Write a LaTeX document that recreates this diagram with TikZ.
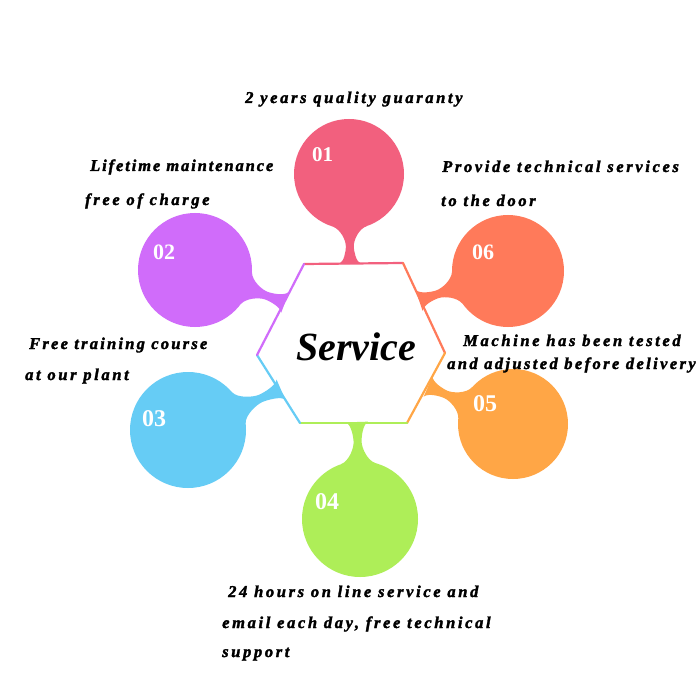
\documentclass[tikz,border=0pt]{standalone}
\usepackage{fontspec}
\setmainfont{Liberation Serif}
\newfontfamily\lblfont[LetterSpace=16,FakeBold=2]{Liberation Serif}
\newfontfamily\lblfontb[LetterSpace=13.5,FakeBold=2]{Liberation Serif}
\newfontfamily\lblfontc[LetterSpace=11.5,FakeBold=2]{Liberation Serif}
\newfontfamily\lblfontd[LetterSpace=14.5,FakeBold=2]{Liberation Serif}
\definecolor{cA}{HTML}{F2607E}
\definecolor{cB}{HTML}{D06CFA}
\definecolor{cC}{HTML}{66CCF5}
\definecolor{cD}{HTML}{AEEE58}
\definecolor{cE}{HTML}{FFA646}
\definecolor{cF}{HTML}{FF7A5A}
\newcommand\neckpath[6]{%
 \pgfmathsetmacro\ndx{#3-(#1)}%
 \pgfmathsetmacro\ndy{#4-(#2)}%
 \pgfmathsetmacro\nang{atan2(-\ndy,\ndx)}%
 \pgfmathsetmacro\nD{sqrt(\ndx*\ndx+\ndy*\ndy)}%
 \pgfmathsetmacro\nxc{\nD-sqrt(#5*#5-289)}%
 \pgfmathsetmacro\nm{(\nD-#5)*0.5}%
 \pgfmathsetmacro\nma{\nm-6}%
 \pgfmathsetmacro\nmb{\nm+6}%
 \pgfmathsetmacro\nxd{\nxc-3}%
 \fill[#6, shift={(#1,#2)}, rotate=\nang]
   (-1,-11) .. controls (1.5,-6) and (\nma,-4) .. (\nm,-4)
   .. controls (\nmb,-4) and (\nxd,-9) .. (\nxc,-17)
   -- (\nxc,17)
   .. controls (\nxd,9) and (\nmb,4) .. (\nm,4)
   .. controls (\nma,4) and (1.5,6) .. (-1,11) -- cycle;
}
\tikzset{
  bubble/.style={circle, inner sep=0pt, minimum size=#1},
  numlbl/.style={anchor=base west, inner sep=0pt, text=white, font=\bfseries\fontsize{#1}{#1}\selectfont},
  txt/.style={anchor=base west, inner sep=0pt, font=\lblfont\bfseries\itshape\fontsize{16.5}{16.5}\selectfont},
  txtb/.style={txt, font=\lblfontb\bfseries\itshape\fontsize{16.5}{16.5}\selectfont},
  txtc/.style={txt, font=\lblfontc\bfseries\itshape\fontsize{16.5}{16.5}\selectfont},
  txtd/.style={txt, font=\lblfontd\bfseries\itshape\fontsize{16.5}{16.5}\selectfont},
  hexedge/.style={line width=2.2pt, line cap=round}
}
\begin{document}
\begin{tikzpicture}[x=1pt,y=-1pt]
\fill[white] (0,0) rectangle (700,700);
\useasboundingbox (0,0) rectangle (700,700);
% hexagon corners
\coordinate (P1) at (304,264);
\coordinate (P2) at (403,263);
\coordinate (P3) at (445,353);
\coordinate (P4) at (407,423);
\coordinate (P5) at (300,423);
\coordinate (P6) at (257,355);
% necks
\neckpath{350}{263}{349}{174}{55}{cA}
\neckpath{284}{302}{195}{270}{57}{cB}
\neckpath{420}{300}{508}{271}{56}{cF}
\neckpath{429}{387}{513}{424}{55}{cE}
\neckpath{357}{423}{360}{519}{58}{cD}
\neckpath{280}{390}{188}{430}{58}{cC}
% circles
\node[bubble=110pt, fill=cA] (c1) at (349,174) {};
\node[bubble=114pt, fill=cB] (c2) at (195,270) {};
\node[bubble=116pt, fill=cC] (c3) at (188,430) {};
\node[bubble=116pt, fill=cD] (c4) at (360,519) {};
\node[bubble=110pt, fill=cE] (c5) at (513,424) {};
\node[bubble=112pt, fill=cF] (c6) at (508,271) {};
% hexagon edges
\draw[hexedge, cA] (P1) -- (P2);
\draw[hexedge, cF] (P2) -- (P3);
\draw[hexedge, cE] (P3) -- (P4);
\draw[hexedge, cD] (P4) -- (P5);
\draw[hexedge, cC] (P5) -- (P6);
\draw[hexedge, cB] (P6) -- (P1);
% numbers
\node[numlbl=21] (n1) at (312,162) {01};
\node[numlbl=22] (n2) at (153,259) {02};
\node[numlbl=24] (n3) at (142,426) {03};
\node[numlbl=24] (n4) at (315,509) {04};
\node[numlbl=24] (n5) at (473,411) {05};
\node[numlbl=22] (n6) at (472,259) {06};
% centre
\node[anchor=base west, inner sep=0pt, font=\bfseries\itshape\fontsize{40}{40}\selectfont] (svc) at (296,360) {Service};
% texts
\node[txt] (t1) at (245,103) {2 years quality guaranty};
\node[txtc] (t2a) at (90,171) {Lifetime maintenance};
\node[txt] (t2b) at (85,205) {free of charge};
\node[txt] (t6a) at (442,172) {Provide technical services};
\node[txt] (t6b) at (441,206) {to the door};
\node[txtb] (t3a) at (29,349) {Free training course};
\node[txt] (t3b) at (25,380) {at our plant};
\node[txt] (t5a) at (463,346) {Machine has been tested};
\node[txtd] (t5b) at (447,369) {and adjusted before delivery};
\node[txt] (t4a) at (228,597) {24 hours on line service and};
\node[txt] (t4b) at (222,628) {email each day, free technical};
\node[txt] (t4c) at (222,657) {support};
\end{tikzpicture}
\end{document}
